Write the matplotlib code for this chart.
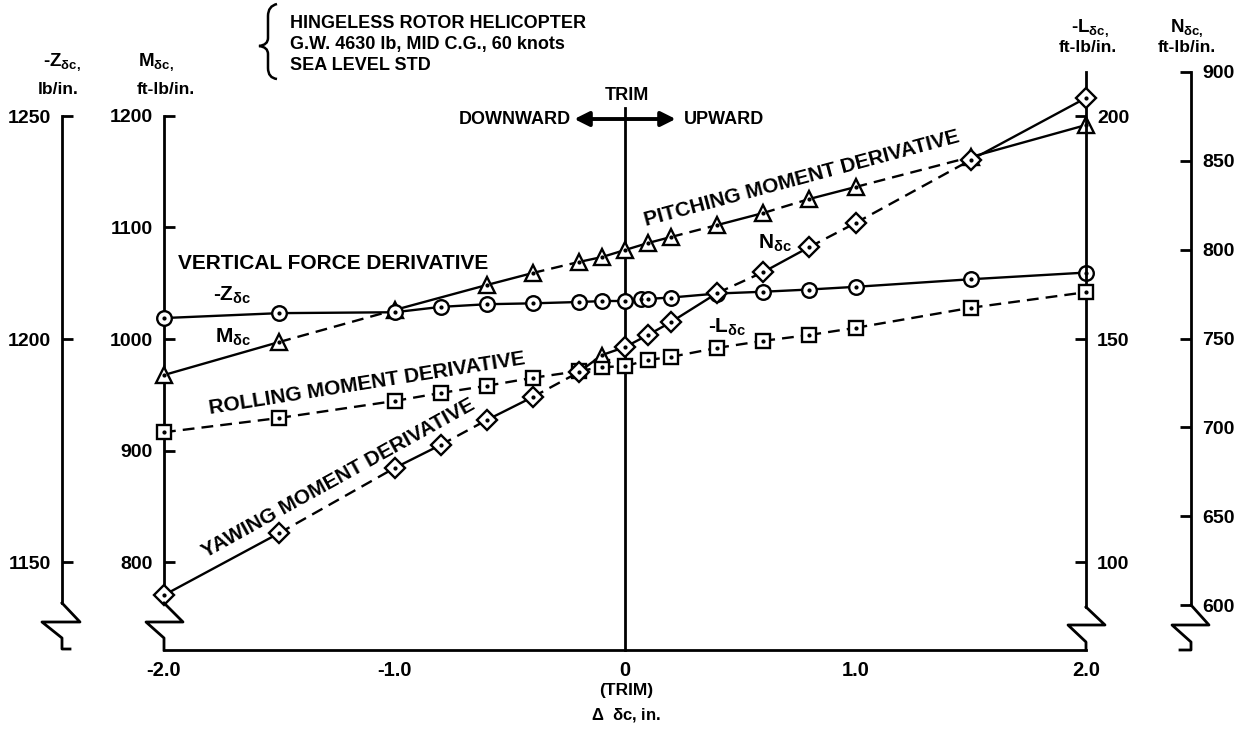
import matplotlib.pyplot as plt
from matplotlib.path import Path
from matplotlib.patches import PathPatch
from matplotlib.lines import Line2D

plt.rcParams['font.family'] = ['Liberation Sans', 'DejaVu Sans']
plt.rcParams['font.weight'] = 'bold'
plt.rcParams['mathtext.fontset'] = 'custom'
plt.rcParams['mathtext.rm'] = 'Liberation Sans:bold'
plt.rcParams['mathtext.it'] = 'Liberation Sans:bold'
plt.rcParams['mathtext.bf'] = 'Liberation Sans:bold'
plt.rcParams['axes.unicode_minus'] = False

# ------------------------------ DATA ------------------------------

# vertical force derivative -Z (lb/in.)
z_x = [-2.0, -1.5, -1.0, -0.8, -0.6, -0.4, -0.2, -0.1, 0.0, 0.07, 0.1, 0.2, 0.4, 0.6, 0.8, 1.0, 1.5, 2.0]
z_val = [1204.7, 1205.8, 1206.0, 1207.2, 1207.8, 1208.0, 1208.3, 1208.5, 1208.5, 1209.0, 1209.0,
         1209.3, 1210.2, 1210.6, 1211.1, 1211.7, 1213.4, 1214.9]

# pitching moment derivative M (ft-lb/in.)
m_x = [-2.0, -1.5, -1.0, -0.6, -0.4, -0.2, -0.1, 0.0, 0.1, 0.2, 0.4, 0.6, 0.8, 1.0, 1.5, 2.0]
m_val = [967.7, 997.3, 1026.0, 1048.4, 1059.2, 1069.1, 1073.5, 1079.8, 1086.1, 1091.5,
         1102.2, 1113.0, 1125.6, 1136.3, 1163.2, 1191.9]

# rolling moment derivative -L (ft-lb/in.)
l_x = [-2.0, -1.5, -1.0, -0.8, -0.6, -0.4, -0.2, -0.1, 0.0, 0.1, 0.2, 0.4, 0.6, 0.8, 1.0, 1.5, 2.0]
l_val = [129.1, 132.3, 136.1, 137.9, 139.5, 141.3, 142.8, 143.7, 143.9, 145.3, 146.0,
         148.0, 149.6, 150.9, 152.5, 157.0, 160.5]

# yawing moment derivative N (ft-lb/in.)
n_x = [-2.0, -1.5, -1.0, -0.8, -0.6, -0.4, -0.2, -0.1, 0.0, 0.1, 0.2, 0.4, 0.6, 0.8, 1.0, 1.5, 2.0]
n_val = [605.6, 640.5, 677.1, 690.1, 704.1, 717.1, 731.1, 740.7, 745.2, 752.0, 759.3,
         775.6, 787.4, 801.5, 815.0, 850.5, 885.4]

x_ticks = [-2.0, -1.0, 0.0, 1.0, 2.0]
x_tick_labels = ['-2.0', '-1.0', '0', '1.0', '2.0']
z_ticks = [1150, 1200, 1250]
m_ticks = [800, 900, 1000, 1100, 1200]
l_ticks = [100, 150, 200]
n_ticks = [600, 650, 700, 750, 800, 850, 900]

# line style of each segment between points
SOLID = '-'
DASH = (0, (5, 3))
z_seg = [SOLID] * (len(z_x) - 1)
l_seg = [DASH] * (len(l_x) - 1)
m_seg = [SOLID, DASH, SOLID, SOLID, DASH, SOLID, SOLID, SOLID, SOLID, DASH, SOLID, DASH, SOLID, DASH, SOLID]
n_seg = [SOLID, DASH, SOLID, DASH, SOLID, DASH, SOLID, SOLID, SOLID, SOLID, SOLID, DASH, SOLID, DASH, DASH, SOLID]
n_marks = ['D'] * len(n_x)
n_marks[7] = '^'

# ------------------------------ FIGURE ------------------------------

W, H = 1242, 731
fig = plt.figure(figsize=(W / 100, H / 100), dpi=100)


def fx(x):
    return x / W


def fy(y):
    return 1 - y / H


def ftext(x, y, s, **kw):
    kw.setdefault('ha', 'center')
    kw.setdefault('va', 'center')
    fig.text(fx(x), fy(y), s, **kw)


ax = fig.add_axes([fx(164), fy(650), (1086 - 164) / W, (650 - 72) / H])
ax_z = ax.twinx()
ax_l = ax.twinx()
ax_n = ax.twinx()

ax.set_xlim(-2, 2)
ax.set_ylim(721.08, 1239.46)
ax_z.set_ylim(1130.27, 1259.87)
ax_l.set_ylim(80.27, 209.87)
ax_n.set_ylim(574.7, 900)

for a in (ax, ax_z, ax_l, ax_n):
    for s in a.spines.values():
        s.set_visible(False)
        s.set_linewidth(2)

ax.spines['left'].set_visible(True)
ax.spines['left'].set_bounds(763.2, 1200)
ax.spines['bottom'].set_visible(True)

ax_z.yaxis.tick_left()
ax_z.spines['left'].set_visible(True)
ax_z.spines['left'].set_position(('axes', -0.1106))
ax_z.spines['left'].set_bounds(1140.8, 1250)

ax_l.spines['right'].set_visible(True)
ax_l.spines['right'].set_bounds(89.9, 209.87)

ax_n.spines['right'].set_visible(True)
ax_n.spines['right'].set_position(('axes', 1.1139))
ax_n.spines['right'].set_bounds(600, 900)

ax.set_xticks(x_ticks)
ax.set_xticklabels(x_tick_labels)
ax.tick_params(axis='x', length=0, pad=8, labelsize=14.5)

for a, t in ((ax, m_ticks), (ax_z, z_ticks), (ax_l, l_ticks), (ax_n, n_ticks)):
    a.set_yticks(t)
    a.set_yticklabels([str(v) for v in t])
    a.tick_params(axis='y', direction='in', length=8, width=2, pad=8, labelsize=14)

# axis break zig-zags
breaks = [
    [(62, 603), (80, 622), (42, 622), (62, 638), (62, 649), (70, 649)],
    [(164, 603), (183, 622), (146, 622), (164, 638), (164, 650)],
    [(1086, 607), (1105, 625), (1068, 625), (1086, 642), (1086, 650)],
    [(1191, 605), (1209, 625), (1172, 625), (1191, 642), (1191, 650), (1180, 650)],
]
for pts in breaks:
    fig.add_artist(Line2D([fx(p[0]) for p in pts], [fy(p[1]) for p in pts],
                          transform=fig.transFigure, color='k', lw=2))

# trim line and arrow
ax.axvline(0, ymin=0, ymax=(650 - 108) / 578, color='k', lw=2, clip_on=False, zorder=1)
ax.annotate('', xy=(-0.22, 1197.3), xytext=(0.22, 1197.3),
            arrowprops=dict(arrowstyle='<|-|>', lw=2.8, mutation_scale=22, color='k',
                            shrinkA=0, shrinkB=0))


def draw_series(a, xs, ys, segs, marks, ms):
    for i in range(len(xs) - 1):
        a.plot(xs[i:i + 2], ys[i:i + 2], color='k', lw=1.7, linestyle=segs[i],
               clip_on=False, zorder=2)
    for xv, yv, mk in zip(xs, ys, marks):
        a.plot([xv], [yv], linestyle='none', marker=mk, ms=ms, mfc='white', mec='k',
               mew=1.7, clip_on=False, zorder=3)
    a.plot(xs, ys, linestyle='none', marker='o', ms=2, color='k', clip_on=False, zorder=4)


draw_series(ax, m_x, m_val, m_seg, ['^'] * len(m_x), 11.5)
draw_series(ax_z, z_x, z_val, z_seg, ['o'] * len(z_x), 10.5)
draw_series(ax_l, l_x, l_val, l_seg, ['s'] * len(l_x), 10)
draw_series(ax_n, n_x, n_val, n_seg, n_marks, 10)

# ------------------------------ TEXT ------------------------------

# header block with brace
brace = Path([(277, 4), (268, 6), (268, 16), (268, 38), (268, 38), (268, 45), (259, 46),
              (268, 47), (268, 54), (268, 54), (268, 68), (268, 78), (277, 79)],
             [Path.MOVETO, Path.CURVE3, Path.CURVE3, Path.LINETO, Path.LINETO,
              Path.CURVE3, Path.CURVE3, Path.CURVE3, Path.CURVE3, Path.LINETO,
              Path.LINETO, Path.CURVE3, Path.CURVE3])
brace = Path([(fx(p[0]), fy(p[1])) for p in brace.vertices], brace.codes)
fig.add_artist(PathPatch(brace, transform=fig.transFigure, fill=False, lw=1.8, color='k'))

ftext(290, 23, 'HINGELESS ROTOR HELICOPTER', ha='left', fontsize=13)
ftext(290, 45, 'G.W. 4630 lb, MID C.G., 60 knots', ha='left', fontsize=13)
ftext(290, 66, 'SEA LEVEL STD', ha='left', fontsize=13)

# axis headers
ftext(62, 62, r'-Z$_{\delta c,}$', fontsize=13.5)
ftext(58, 90, 'lb/in.', fontsize=12.5)
ftext(156, 62, r'M$_{\delta c,}$', fontsize=13.5)
ftext(166, 90, 'ft-lb/in.', fontsize=12.5)
ftext(1090, 28, r'-L$_{\delta c,}$', fontsize=13.5)
ftext(1088, 48, 'ft-lb/in.', fontsize=12.5)
ftext(1187, 28, r'N$_{\delta c,}$', fontsize=13.5)
ftext(1187, 48, 'ft-lb/in.', fontsize=12.5)

# trim annotations
ftext(627, 95, 'TRIM', fontsize=13)
ftext(571, 119, 'DOWNWARD', ha='right', fontsize=13)
ftext(684, 119, 'UPWARD', ha='left', fontsize=13)

# curve labels
ftext(178, 263, 'VERTICAL FORCE DERIVATIVE', ha='left', fontsize=15)
ftext(232, 295, r'-Z$_{\delta c}$', fontsize=15)
ftext(233, 337, r'M$_{\delta c}$', fontsize=15)
ftext(367, 384, 'ROLLING MOMENT DERIVATIVE', fontsize=15, rotation=9, rotation_mode='anchor')
ftext(338, 478, 'YAWING MOMENT DERIVATIVE', fontsize=15, rotation=29, rotation_mode='anchor')
ftext(802, 179, 'PITCHING MOMENT DERIVATIVE', fontsize=15, rotation=15, rotation_mode='anchor')
ftext(775, 243, r'N$_{\delta c}$', fontsize=15)
ftext(727, 327, r'-L$_{\delta c}$', fontsize=15)

# x axis title
ftext(626, 691, '(TRIM)', fontsize=12.5)
ftext(626, 715, r'$\Delta$  $\delta$c, in.', fontsize=12)

fig.savefig('out.png', dpi=100)
